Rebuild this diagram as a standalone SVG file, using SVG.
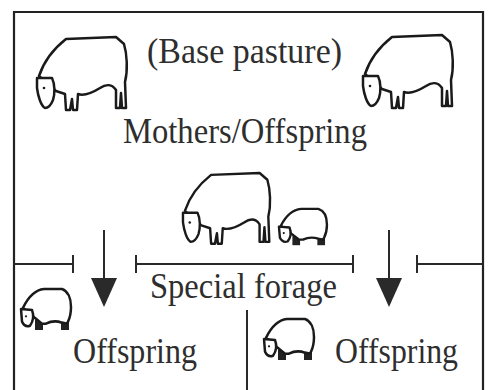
<svg xmlns="http://www.w3.org/2000/svg" xmlns:xlink="http://www.w3.org/1999/xlink" width="491" height="390" viewBox="0 0 491 390">
  <style>
    .frame { fill: none; stroke: #222; stroke-width: 2.2; }
    .line { fill: none; stroke: #2a2a2a; stroke-width: 2; }
    .lbl { font-family: "Liberation Serif", "Times New Roman", serif; font-size: 36px; fill: #2e2e2e; }
    .ol { fill: #fff; stroke: #1a1a1a; stroke-width: 2.5; stroke-linejoin: round; stroke-linecap: round; }
    .leg { fill: #222; stroke: none; }
  </style>
  <defs>
    <!-- grazing ewe, head down, ~92 x 74 -->
    <g id="ewe">
      <path class="ol" d="M3,40 C7,28 16,14 30,3 L80,1 L88,8 C91,18 92,34 89,46 L90,72 L86,72 L85,57 L84,72 L80,72 L80,54 C76,48 70,48 64,52 C56,57 48,60 42,58 L41,74 L37,74 L36,63 L34,74 L30,74 L29,58 L20,55 Z"/>
      <path class="ol" d="M1,42 L16,42 C19,48 19,58 17,64 C15,69 12,72 9,72 C5,70 2,60 1,52 Z"/>
      <circle cx="8" cy="52" r="1.3" fill="#1a1a1a"/>
    </g>
    <!-- grazing lamb, dark legs, ~52 x 40 -->
    <g id="lamb">
      <rect class="leg" x="15" y="30" width="8" height="10"/>
      <rect class="leg" x="41" y="30" width="8" height="10"/>
      <path class="ol" d="M3,19 C8,9 14,2 24,1 L42,1 C48,3 51,10 51,18 C51,25 49,30 48,32 L47,34 L42,33 C36,31 30,32 26,34 L22,34 Z"/>
      <path class="ol" d="M1,20 L12,21 C14,26 13,32 10,36 C7,37 4,36 2,32 Z"/>
      <circle cx="6" cy="27" r="1.1" fill="#1a1a1a"/>
    </g>
    <!-- downward arrowhead, tip at origin -->
    <path id="head-down" d="M-13,-29 L13,-29 L0,0 Z" fill="#2a2a2a"/>
  </defs>

  <rect width="491" height="390" fill="#fff"/>

  <!-- outer frame, open at the bottom -->
  <g id="frame">
    <path class="frame" d="M14,390 L14,12 L483,12 L483,390"/>
  </g>

  <!-- base pasture: mothers with offspring -->
  <g id="base-pasture">
    <use xlink:href="#ewe" transform="translate(36,36)"/>
    <use xlink:href="#ewe" transform="translate(362,34)"/>
    <text class="lbl" x="147" y="63" textLength="195" lengthAdjust="spacingAndGlyphs">(Base pasture)</text>
    <text class="lbl" x="123" y="143" textLength="244" lengthAdjust="spacingAndGlyphs">Mothers/Offspring</text>
  </g>

  <!-- special forage strip -->
  <g id="special-forage">
    <use xlink:href="#ewe" transform="translate(182,172) scale(0.97)"/>
    <use xlink:href="#lamb" transform="translate(278,208) scale(0.96,0.93)"/>
    <text class="lbl" x="150" y="298" textLength="187" lengthAdjust="spacingAndGlyphs">Special forage</text>
  </g>

  <!-- offspring paddocks -->
  <g id="offspring-left">
    <use xlink:href="#lamb" transform="translate(20,288) scale(1,1.05)"/>
    <text class="lbl" x="73" y="363" textLength="124" lengthAdjust="spacingAndGlyphs">Offspring</text>
  </g>
  <g id="offspring-right">
    <use xlink:href="#lamb" transform="translate(263,318) scale(1,1.05)"/>
    <text class="lbl" x="335" y="363" textLength="123" lengthAdjust="spacingAndGlyphs">Offspring</text>
  </g>

  <!-- fences, gates and flow arrows -->
  <g id="connectors">
    <path class="line" d="M14,264 L73,264 M73,255 L73,273"/>
    <path class="line" d="M136,264 L353,264 M136,255 L136,273 M353,255 L353,273"/>
    <path class="line" d="M417,264 L483,264 M417,255 L417,273"/>
    <path class="line" d="M247,310 L247,390"/>
    <path class="line" d="M104,230 L104,282"/>
    <use xlink:href="#head-down" transform="translate(104,307)"/>
    <path class="line" d="M389,230 L389,282"/>
    <use xlink:href="#head-down" transform="translate(389,307)"/>
  </g>
</svg>
